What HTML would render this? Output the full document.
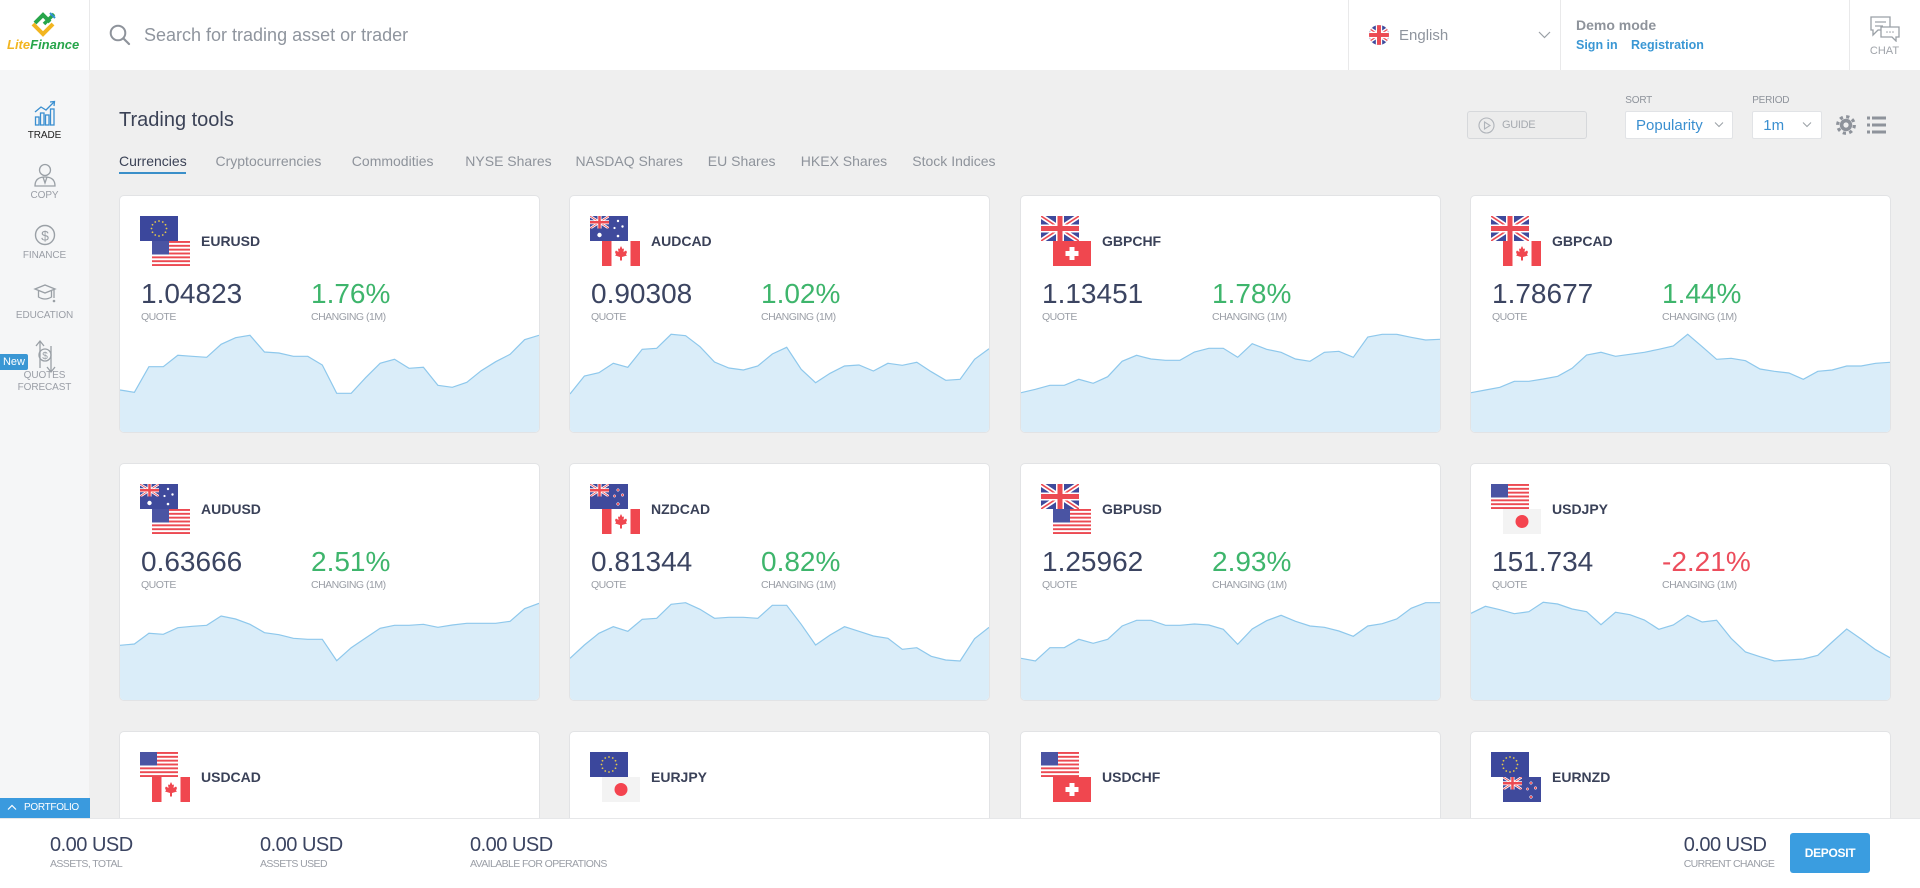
<!DOCTYPE html>
<html><head><meta charset="utf-8">
<style>
*{box-sizing:border-box;margin:0;padding:0}
html,body{width:1920px;height:888px;overflow:hidden}
body{position:relative;background:#efefef;font-family:"Liberation Sans",Arial,sans-serif;color:#3b4256}
.a{position:absolute;white-space:nowrap}
#hdr{position:absolute;left:0;top:0;width:1920px;height:70px;background:#fff}
.vl{position:absolute;top:0;width:1px;height:70px;background:#e9e9ea}
#side{position:absolute;left:0;top:70px;width:89px;height:748px;background:#f5f6f7}
.sl{position:absolute;left:0;width:89px;text-align:center;font-size:10px;line-height:10px;color:#9a9ea6;letter-spacing:-0.1px}
.tab{position:absolute;top:154px;font-size:14px;line-height:14px;color:#8e939b}
.card{position:absolute;width:419px;height:236px;background:#fff;border-radius:4px;box-shadow:0 0 0 1px #e2e3e5;overflow:hidden}
.card.cut{height:86px;border-radius:4px 4px 0 0}
.card .ch{position:absolute;left:0;top:0}
.card .f1{position:absolute;left:20px;top:20px}
.card .f2{position:absolute;left:32px;top:45px}
.pair{position:absolute;left:81px;top:38.2px;font-size:14px;line-height:14px;font-weight:bold;color:#3a4158;white-space:nowrap}
.q{position:absolute;left:21px;top:84.3px;font-size:28px;line-height:28px;color:#3b4461;white-space:nowrap}
.c{position:absolute;left:191px;top:84.3px;font-size:28px;line-height:28px;color:#3eb56c;white-space:nowrap}
.c.neg{color:#ec4d5c}
.ql,.cl{position:absolute;top:116px;font-size:10.5px;line-height:10.5px;color:#9a9ea6;letter-spacing:-0.5px;white-space:nowrap}
.ql{left:21px}.cl{left:191px}
#bot{position:absolute;left:0;top:818px;width:1920px;height:70px;background:#fff;border-top:1px solid #e6e7e9}
.bv{position:absolute;top:835px;font-size:20px;line-height:20px;color:#3b4461;letter-spacing:-0.5px}
.bl{position:absolute;top:859px;font-size:10.5px;line-height:10.5px;color:#9a9ea6;letter-spacing:-0.6px}
.sel{position:absolute;top:110.7px;height:28.6px;background:#fff;border:1px solid #e1e3e6;border-radius:2px}
.lab{position:absolute;top:96.1px;font-size:10px;line-height:10px;color:#8e939b;letter-spacing:-0.2px}
</style></head><body>

<svg width="0" height="0" style="position:absolute">
<defs>
<symbol id="gb" viewBox="0 0 38 25">
<rect width="38" height="25" fill="#3f4a9c"/>
<path d="M0,0L38,25M38,0L0,25" stroke="#fff" stroke-width="5"/>
<path d="M0,0L38,25M38,0L0,25" stroke="#ec4a52" stroke-width="1.6"/>
<rect x="15" width="8" height="25" fill="#fff"/><rect y="8.5" width="38" height="8" fill="#fff"/>
<rect x="16.5" width="5" height="25" fill="#ec4a52"/><rect y="10" width="38" height="5" fill="#ec4a52"/>
</symbol>
<symbol id="us" viewBox="0 0 38 25">
<rect width="38" height="25" fill="#fff"/>
<g fill="#ec4a52"><rect y="0" width="38" height="1.92"/><rect y="3.85" width="38" height="1.92"/><rect y="7.69" width="38" height="1.92"/><rect y="11.54" width="38" height="1.92"/><rect y="15.38" width="38" height="1.92"/><rect y="19.23" width="38" height="1.92"/><rect y="23.08" width="38" height="1.92"/></g>
<rect width="17" height="13.5" fill="#4a54a3"/>
</symbol>
<symbol id="eu" viewBox="0 0 38 25">
<rect width="38" height="25" fill="#3b479c"/>
<g fill="#e6c94a"><circle cx="19" cy="5" r="0.9"/><circle cx="22.75" cy="6" r="0.9"/><circle cx="25.5" cy="8.75" r="0.9"/><circle cx="26.5" cy="12.5" r="0.9"/><circle cx="25.5" cy="16.25" r="0.9"/><circle cx="22.75" cy="19" r="0.9"/><circle cx="19" cy="20" r="0.9"/><circle cx="15.25" cy="19" r="0.9"/><circle cx="12.5" cy="16.25" r="0.9"/><circle cx="11.5" cy="12.5" r="0.9"/><circle cx="12.5" cy="8.75" r="0.9"/><circle cx="15.25" cy="6" r="0.9"/></g>
</symbol>
<symbol id="ca" viewBox="0 0 38 25">
<rect width="38" height="25" fill="#fff"/>
<rect width="9.5" height="25" fill="#f0474f"/><rect x="28.5" width="9.5" height="25" fill="#f0474f"/>
<polygon fill="#f0474f" points="19,5 20.5,8 22,7.5 21.5,11 24,9.5 25,11 24,13.5 25,14.5 20,16 20,19.5 18,19.5 18,16 13,14.5 14,13.5 13,11 14,9.5 16.5,11 16,7.5 17.5,8"/>
</symbol>
<symbol id="ch" viewBox="0 0 38 25">
<rect width="38" height="25" fill="#f0474f"/>
<rect x="16.5" y="6" width="5" height="13" fill="#fff"/><rect x="12.5" y="10" width="13" height="5" fill="#fff"/>
</symbol>
<symbol id="jp" viewBox="0 0 38 25">
<rect width="38" height="25" fill="#f3f3f3"/>
<circle cx="19" cy="12.5" r="6.5" fill="#f4444f"/>
</symbol>
<symbol id="au" viewBox="0 0 38 25">
<rect width="38" height="25" fill="#3f4a9c"/>
<use href="#gb" x="0" y="0" width="19" height="12.5"/>
<g fill="#fff"><circle cx="9.5" cy="19" r="2.2"/><circle cx="28" cy="5" r="1.2"/><circle cx="32.5" cy="10.5" r="1.2"/><circle cx="28" cy="20" r="1.3"/><circle cx="24.5" cy="12" r="1.1"/></g>
</symbol>
<symbol id="nz" viewBox="0 0 38 25">
<rect width="38" height="25" fill="#3f4a9c"/>
<use href="#gb" x="0" y="0" width="19" height="12.5"/>
<g fill="#ec4a52" stroke="#fff" stroke-width="0.5"><circle cx="28" cy="6" r="1.3"/><circle cx="32.5" cy="11" r="1.3"/><circle cx="28" cy="20" r="1.4"/><circle cx="24.5" cy="12" r="1.2"/></g>
</symbol>
</defs>
</svg>

<!-- HEADER -->
<div id="hdr"></div>
<div class="vl" style="left:89px"></div>
<div class="vl" style="left:1348px"></div>
<div class="vl" style="left:1560px"></div>
<div class="vl" style="left:1849px"></div>

<!-- logo -->
<svg class="a" style="left:0;top:0" width="89" height="70">
<polyline points="33,24 43,34 53,24" fill="none" stroke="#f2b520" stroke-width="4"/>
<polyline points="35,23 43,15 50,22" fill="none" stroke="#27a54a" stroke-width="4"/>
<line x1="44" y1="24" x2="54" y2="14" stroke="#27a54a" stroke-width="3.5"/>
<line x1="50" y1="13" x2="55" y2="18" stroke="#2f8fd0" stroke-width="2"/>
</svg>
<div class="a" style="left:7px;top:38px;font-size:13px;line-height:13px;font-weight:bold;font-style:italic"><span style="color:#f2b520">Lite</span><span style="color:#27a54a">Finance</span></div>

<!-- search -->
<svg class="a" style="left:108px;top:24px" width="26" height="24">
<circle cx="10" cy="9" r="7.3" fill="none" stroke="#8e939b" stroke-width="2"/>
<line x1="15.5" y1="14.5" x2="21" y2="20" stroke="#8e939b" stroke-width="2.2" stroke-linecap="round"/>
</svg>
<div class="a" style="left:144px;top:26.2px;font-size:18px;line-height:18px;color:#8f959e">Search for trading asset or trader</div>

<!-- language -->
<svg class="a" style="left:1369px;top:25px" width="20" height="20">
<clipPath id="cc"><circle cx="10" cy="10" r="10"/></clipPath>
<g clip-path="url(#cc)"><use href="#gb" x="-5" y="0" width="30" height="20"/></g>
</svg>
<div class="a" style="left:1399px;top:27.7px;font-size:15px;line-height:15px;color:#8f959e">English</div>
<svg class="a" style="left:1538px;top:30px" width="14" height="10"><polyline points="1,2 6.5,7.5 12,2" fill="none" stroke="#9aa0a6" stroke-width="1.2"/></svg>

<div class="a" style="left:1576px;top:18.2px;font-size:14px;line-height:14px;font-weight:bold;color:#8e939b">Demo mode</div>
<div class="a" style="left:1576px;top:38.5px;font-size:12.5px;line-height:12.5px;font-weight:bold;color:#3a97d4">Sign in</div>
<div class="a" style="left:1631px;top:38.5px;font-size:12.5px;line-height:12.5px;font-weight:bold;color:#3a97d4">Registration</div>

<svg class="a" style="left:1868px;top:14px" width="34" height="28">
<path d="M3,3 H22 V16 H10 L5,21 V16 H3 Z" fill="#fff" stroke="#9aa0a6" stroke-width="1.3"/>
<line x1="7" y1="8" x2="18" y2="8" stroke="#9aa0a6" stroke-width="1.2"/>
<line x1="7" y1="12" x2="15" y2="12" stroke="#9aa0a6" stroke-width="1.2"/>
<path d="M13,13 H31 V23 H28 V27 L24,23 H13 Z" fill="#fff" stroke="#9aa0a6" stroke-width="1.3"/>
<g fill="#9aa0a6"><circle cx="19" cy="18" r="0.8"/><circle cx="22" cy="18" r="0.8"/><circle cx="25" cy="18" r="0.8"/></g>
</svg>
<div class="a" style="left:1849px;width:71px;text-align:center;top:46.3px;font-size:11px;line-height:11px;color:#a0a4aa">CHAT</div>

<!-- SIDEBAR -->
<div id="side"></div>
<svg class="a" style="left:0;top:90px" width="89" height="300">
<g stroke="#3b8fd0" stroke-width="1.3" fill="none">
<rect x="35.5" y="27" width="3.5" height="8"/><rect x="40.5" y="23" width="3.5" height="12"/><rect x="45.5" y="25" width="3.5" height="10"/><rect x="50.5" y="19" width="3.5" height="16"/>
<polyline points="35,22 41,17 46,20 54,12"/><polyline points="50,12 54.5,11.5 54,16"/>
</g>
<g stroke="#9aa0a6" stroke-width="1.3" fill="none">
<circle cx="45" cy="80" r="5.5"/>
<path d="M35,96 Q35,87 45,87 Q55,87 55,96 Z"/>
<polyline points="43,87 45,93 47,87"/>
</g>
<circle cx="45" cy="145" r="9.5" fill="none" stroke="#9aa0a6" stroke-width="1.4"/>
<text x="45" y="150.5" text-anchor="middle" font-family="Liberation Sans" font-size="14" fill="#9aa0a6">$</text>
<g stroke="#9aa0a6" stroke-width="1.3" fill="none">
<polygon points="35,199 45,195 55,199 45,203"/>
<path d="M38.5,201 V207 Q45,211 51.5,207 V201"/>
<line x1="54" y1="199" x2="54" y2="208"/>
</g>
<circle cx="54" cy="211" r="1.3" fill="#9aa0a6"/>
<g stroke="#9aa0a6" stroke-width="1.3" fill="none">
<polyline points="40,278 40,252"/><polyline points="36,256 40,251 44,256"/>
<polyline points="51,256 51,281"/><polyline points="47,277 51,282 55,277"/>
<circle cx="45" cy="265" r="6"/>
</g>
<text x="45" y="269" text-anchor="middle" font-family="Liberation Sans" font-size="10" fill="#9aa0a6">$</text>
</svg>
<div class="sl" style="top:131.1px;color:#222">TRADE</div>
<div class="sl" style="top:191.1px">COPY</div>
<div class="sl" style="top:251.1px">FINANCE</div>
<div class="sl" style="top:311.1px">EDUCATION</div>
<div class="sl" style="top:371.1px">QUOTES</div>
<div class="sl" style="top:383.1px">FORECAST</div>
<div class="a" style="left:0;top:354px;width:28px;height:16px;background:#3a97d4;color:#fff;font-size:11px;line-height:16px;text-align:center;border-radius:0 2px 2px 0">New</div>

<!-- CONTENT HEADER -->
<div class="a" style="left:119px;top:110.2px;font-size:20px;line-height:20px;color:#3b4256">Trading tools</div>
<div class="tab" style="left:119px;color:#3b4256">Currencies</div>
<div class="a" style="left:119px;top:172px;width:67px;height:2px;background:#3a8fc9"></div>
<div class="tab" style="left:215.5px">Cryptocurrencies</div>
<div class="tab" style="left:351.8px">Commodities</div>
<div class="tab" style="left:465.3px">NYSE Shares</div>
<div class="tab" style="left:575.5px">NASDAQ Shares</div>
<div class="tab" style="left:707.8px">EU Shares</div>
<div class="tab" style="left:800.8px">HKEX Shares</div>
<div class="tab" style="left:912.3px">Stock Indices</div>

<div class="a" style="left:1467px;top:110.7px;width:119.5px;height:28.6px;border:1px solid #d6d8db;border-radius:3px;background:#ececec"></div>
<svg class="a" style="left:1478px;top:116.5px" width="17" height="17">
<circle cx="8.5" cy="8.5" r="7.5" fill="none" stroke="#b0b4ba" stroke-width="1.1"/>
<polygon points="6.5,5 12,8.5 6.5,12" fill="none" stroke="#b0b4ba" stroke-width="1.1"/>
</svg>
<div class="a" style="left:1502px;top:119.6px;font-size:11px;line-height:11px;color:#a6aab0;letter-spacing:-0.3px">GUIDE</div>

<div class="lab" style="left:1625.3px">SORT</div>
<div class="sel" style="left:1625.3px;width:108.2px"></div>
<div class="a" style="left:1636px;top:117.7px;font-size:15px;line-height:15px;color:#3a8fd0">Popularity</div>
<svg class="a" style="left:1714px;top:121px" width="10" height="8"><polyline points="1,1.5 5,5.5 9,1.5" fill="none" stroke="#9aa0a6" stroke-width="1"/></svg>

<div class="lab" style="left:1752.2px">PERIOD</div>
<div class="sel" style="left:1752.2px;width:69.4px"></div>
<div class="a" style="left:1763.3px;top:117.7px;font-size:15px;line-height:15px;color:#3a8fd0">1m</div>
<svg class="a" style="left:1802px;top:121px" width="10" height="8"><polyline points="1,1.5 5,5.5 9,1.5" fill="none" stroke="#9aa0a6" stroke-width="1"/></svg>

<svg class="a" style="left:1835px;top:114px" width="22" height="22">
<circle cx="11" cy="11" r="8.3" fill="none" stroke="#8e939b" stroke-width="3.2" stroke-dasharray="3.2 3.3"/>
<circle cx="11" cy="11" r="6.2" fill="#8e939b"/>
<circle cx="11" cy="11" r="2.6" fill="#efefef"/>
</svg>
<svg class="a" style="left:1866px;top:115px" width="21" height="19">
<g fill="#8e939b"><rect x="1" y="1.5" width="3" height="3"/><rect x="6" y="1.5" width="14" height="3"/><rect x="1" y="8.5" width="3" height="3"/><rect x="6" y="8.5" width="14" height="3"/><rect x="1" y="15.5" width="3" height="3"/><rect x="6" y="15.5" width="14" height="3"/></g>
</svg>

<!-- CARDS ROW 1 -->
<div class="card" style="left:120px;top:196px">
<svg class="ch" width="419" height="236"><polygon fill="#daedf9" points="0,236 0,194 14.4,196.3 28.9,170.7 43.3,170.7 57.8,159.3 72.2,160.3 86.7,161.3 101.1,148.3 115.6,141.7 130,139.3 144.5,156 158.9,157 173.4,160.3 187.8,160.3 202.3,169 216.7,197.3 231.2,197.3 245.6,181.7 260.1,167.3 274.5,163.3 289,172.3 303.4,171.3 317.9,189.3 332.3,191.3 346.8,186.3 361.2,174.7 375.7,165.7 390.1,158.3 404.6,143.7 419,139.3 419,236"/><polyline fill="none" stroke="#8ec8ec" stroke-width="1.2" points="0,194 14.4,196.3 28.9,170.7 43.3,170.7 57.8,159.3 72.2,160.3 86.7,161.3 101.1,148.3 115.6,141.7 130,139.3 144.5,156 158.9,157 173.4,160.3 187.8,160.3 202.3,169 216.7,197.3 231.2,197.3 245.6,181.7 260.1,167.3 274.5,163.3 289,172.3 303.4,171.3 317.9,189.3 332.3,191.3 346.8,186.3 361.2,174.7 375.7,165.7 390.1,158.3 404.6,143.7 419,139.3"/></svg>
<svg class="f1" width="38" height="25"><use href="#eu"/></svg><svg class="f2" width="38" height="25"><use href="#us"/></svg>
<div class="pair">EURUSD</div><div class="q">1.04823</div><div class="ql">QUOTE</div><div class="c">1.76%</div><div class="cl">CHANGING (1M)</div>
</div>

<div class="card" style="left:570px;top:196px">
<svg class="ch" width="419" height="236"><polygon fill="#daedf9" points="0,236 0,198 14.4,180 28.9,176.7 43.3,167.3 57.8,171.3 72.2,153.3 86.7,152.3 101.1,138.3 115.6,139.7 130,150.7 144.5,166 158.9,172 173.4,174 187.8,170 202.3,158 216.7,151.3 231.2,173.3 245.6,186.7 260.1,177.3 274.5,170 289,169 303.4,175 317.9,167.3 332.3,169.3 346.8,166.3 361.2,175.7 375.7,184.3 390.1,183.3 404.6,163.3 419,152.7 419,236"/><polyline fill="none" stroke="#8ec8ec" stroke-width="1.2" points="0,198 14.4,180 28.9,176.7 43.3,167.3 57.8,171.3 72.2,153.3 86.7,152.3 101.1,138.3 115.6,139.7 130,150.7 144.5,166 158.9,172 173.4,174 187.8,170 202.3,158 216.7,151.3 231.2,173.3 245.6,186.7 260.1,177.3 274.5,170 289,169 303.4,175 317.9,167.3 332.3,169.3 346.8,166.3 361.2,175.7 375.7,184.3 390.1,183.3 404.6,163.3 419,152.7"/></svg>
<svg class="f1" width="38" height="25"><use href="#au"/></svg><svg class="f2" width="38" height="25"><use href="#ca"/></svg>
<div class="pair">AUDCAD</div><div class="q">0.90308</div><div class="ql">QUOTE</div><div class="c">1.02%</div><div class="cl">CHANGING (1M)</div>
</div>

<div class="card" style="left:1021px;top:196px">
<svg class="ch" width="419" height="236"><polygon fill="#daedf9" points="0,236 0,196.7 14.4,193.3 28.9,189.3 43.3,189.3 57.8,183.3 72.2,187.3 86.7,180.7 101.1,165.3 115.6,159.3 130,163 144.5,164.3 158.9,164.3 173.4,156 187.8,152.3 202.3,152.3 216.7,161.3 231.2,147.7 245.6,153.3 260.1,156.3 274.5,163 289,165.3 303.4,156.3 317.9,155.3 332.3,161.3 346.8,141 361.2,138.3 375.7,138.3 390.1,141.3 404.6,144 419,143.3 419,236"/><polyline fill="none" stroke="#8ec8ec" stroke-width="1.2" points="0,196.7 14.4,193.3 28.9,189.3 43.3,189.3 57.8,183.3 72.2,187.3 86.7,180.7 101.1,165.3 115.6,159.3 130,163 144.5,164.3 158.9,164.3 173.4,156 187.8,152.3 202.3,152.3 216.7,161.3 231.2,147.7 245.6,153.3 260.1,156.3 274.5,163 289,165.3 303.4,156.3 317.9,155.3 332.3,161.3 346.8,141 361.2,138.3 375.7,138.3 390.1,141.3 404.6,144 419,143.3"/></svg>
<svg class="f1" width="38" height="25"><use href="#gb"/></svg><svg class="f2" width="38" height="25"><use href="#ch"/></svg>
<div class="pair">GBPCHF</div><div class="q">1.13451</div><div class="ql">QUOTE</div><div class="c">1.78%</div><div class="cl">CHANGING (1M)</div>
</div>

<div class="card" style="left:1471px;top:196px">
<svg class="ch" width="419" height="236"><polygon fill="#daedf9" points="0,236 0,196.7 14.4,194 28.9,191.3 43.3,185.3 57.8,185.3 72.2,183 86.7,180.3 101.1,172.3 115.6,159 130,156.3 144.5,160.3 158.9,158.3 173.4,156.3 187.8,153.3 202.3,150 216.7,138.3 231.2,150.7 245.6,163.3 260.1,162.3 274.5,164.7 289,173 303.4,175.3 317.9,177 332.3,183.3 346.8,175.3 361.2,174 375.7,170 390.1,170 404.6,167.3 419,166.3 419,236"/><polyline fill="none" stroke="#8ec8ec" stroke-width="1.2" points="0,196.7 14.4,194 28.9,191.3 43.3,185.3 57.8,185.3 72.2,183 86.7,180.3 101.1,172.3 115.6,159 130,156.3 144.5,160.3 158.9,158.3 173.4,156.3 187.8,153.3 202.3,150 216.7,138.3 231.2,150.7 245.6,163.3 260.1,162.3 274.5,164.7 289,173 303.4,175.3 317.9,177 332.3,183.3 346.8,175.3 361.2,174 375.7,170 390.1,170 404.6,167.3 419,166.3"/></svg>
<svg class="f1" width="38" height="25"><use href="#gb"/></svg><svg class="f2" width="38" height="25"><use href="#ca"/></svg>
<div class="pair">GBPCAD</div><div class="q">1.78677</div><div class="ql">QUOTE</div><div class="c">1.44%</div><div class="cl">CHANGING (1M)</div>
</div>

<!-- CARDS ROW 2 -->
<div class="card" style="left:120px;top:464px">
<svg class="ch" width="419" height="236"><polygon fill="#daedf9" points="0,236 0,181.3 14.4,180 28.9,169.3 43.3,170.3 57.8,163.7 72.2,162.3 86.7,161.3 101.1,152 115.6,155 130,160.3 144.5,168.7 158.9,170.7 173.4,174.3 187.8,175.3 202.3,175.3 216.7,196.7 231.2,183.7 245.6,174 260.1,164.3 274.5,161.3 289,161.3 303.4,160.3 317.9,163.3 332.3,161 346.8,159.3 361.2,159.3 375.7,159.3 390.1,157.3 404.6,144.7 419,139.3 419,236"/><polyline fill="none" stroke="#8ec8ec" stroke-width="1.2" points="0,181.3 14.4,180 28.9,169.3 43.3,170.3 57.8,163.7 72.2,162.3 86.7,161.3 101.1,152 115.6,155 130,160.3 144.5,168.7 158.9,170.7 173.4,174.3 187.8,175.3 202.3,175.3 216.7,196.7 231.2,183.7 245.6,174 260.1,164.3 274.5,161.3 289,161.3 303.4,160.3 317.9,163.3 332.3,161 346.8,159.3 361.2,159.3 375.7,159.3 390.1,157.3 404.6,144.7 419,139.3"/></svg>
<svg class="f1" width="38" height="25"><use href="#au"/></svg><svg class="f2" width="38" height="25"><use href="#us"/></svg>
<div class="pair">AUDUSD</div><div class="q">0.63666</div><div class="ql">QUOTE</div><div class="c">2.51%</div><div class="cl">CHANGING (1M)</div>
</div>

<div class="card" style="left:570px;top:464px">
<svg class="ch" width="419" height="236"><polygon fill="#daedf9" points="0,236 0,194.3 14.4,181 28.9,169.3 43.3,162.7 57.8,167.3 72.2,155.3 86.7,154.3 101.1,140.3 115.6,138.7 130,145.3 144.5,154.3 158.9,153.3 173.4,153.3 187.8,154.3 202.3,141.3 216.7,141.3 231.2,160.3 245.6,181 260.1,171 274.5,162.7 289,167.3 303.4,172 317.9,174.3 332.3,185.3 346.8,183.7 361.2,192.3 375.7,196 390.1,197 404.6,174.7 419,163.3 419,236"/><polyline fill="none" stroke="#8ec8ec" stroke-width="1.2" points="0,194.3 14.4,181 28.9,169.3 43.3,162.7 57.8,167.3 72.2,155.3 86.7,154.3 101.1,140.3 115.6,138.7 130,145.3 144.5,154.3 158.9,153.3 173.4,153.3 187.8,154.3 202.3,141.3 216.7,141.3 231.2,160.3 245.6,181 260.1,171 274.5,162.7 289,167.3 303.4,172 317.9,174.3 332.3,185.3 346.8,183.7 361.2,192.3 375.7,196 390.1,197 404.6,174.7 419,163.3"/></svg>
<svg class="f1" width="38" height="25"><use href="#nz"/></svg><svg class="f2" width="38" height="25"><use href="#ca"/></svg>
<div class="pair">NZDCAD</div><div class="q">0.81344</div><div class="ql">QUOTE</div><div class="c">0.82%</div><div class="cl">CHANGING (1M)</div>
</div>

<div class="card" style="left:1021px;top:464px">
<svg class="ch" width="419" height="236"><polygon fill="#daedf9" points="0,236 0,194.3 14.4,197 28.9,183.7 43.3,183.7 57.8,175.3 72.2,179.3 86.7,175.3 101.1,162 115.6,156.3 130,156.3 144.5,161.3 158.9,161.3 173.4,160 187.8,161 202.3,165.3 216.7,180.3 231.2,165 245.6,156.7 260.1,151.3 274.5,157.3 289,162 303.4,163.3 317.9,167 332.3,172.3 346.8,162 361.2,159.7 375.7,155 390.1,144.3 404.6,138.7 419,138.7 419,236"/><polyline fill="none" stroke="#8ec8ec" stroke-width="1.2" points="0,194.3 14.4,197 28.9,183.7 43.3,183.7 57.8,175.3 72.2,179.3 86.7,175.3 101.1,162 115.6,156.3 130,156.3 144.5,161.3 158.9,161.3 173.4,160 187.8,161 202.3,165.3 216.7,180.3 231.2,165 245.6,156.7 260.1,151.3 274.5,157.3 289,162 303.4,163.3 317.9,167 332.3,172.3 346.8,162 361.2,159.7 375.7,155 390.1,144.3 404.6,138.7 419,138.7"/></svg>
<svg class="f1" width="38" height="25"><use href="#gb"/></svg><svg class="f2" width="38" height="25"><use href="#us"/></svg>
<div class="pair">GBPUSD</div><div class="q">1.25962</div><div class="ql">QUOTE</div><div class="c">2.93%</div><div class="cl">CHANGING (1M)</div>
</div>

<div class="card" style="left:1471px;top:464px">
<svg class="ch" width="419" height="236"><polygon fill="#daedf9" points="0,236 0,149.3 14.4,142.3 28.9,145.7 43.3,149.7 57.8,147.7 72.2,138.3 86.7,140 101.1,145 115.6,147.7 130,160.7 144.5,148.3 158.9,150.7 173.4,156 187.8,165.3 202.3,161 216.7,151.3 231.2,158 245.6,156.3 260.1,174.3 274.5,188 289,192.7 303.4,197 317.9,196 332.3,195 346.8,191.3 361.2,178 375.7,165 390.1,175 404.6,185.7 419,193.7 419,236"/><polyline fill="none" stroke="#8ec8ec" stroke-width="1.2" points="0,149.3 14.4,142.3 28.9,145.7 43.3,149.7 57.8,147.7 72.2,138.3 86.7,140 101.1,145 115.6,147.7 130,160.7 144.5,148.3 158.9,150.7 173.4,156 187.8,165.3 202.3,161 216.7,151.3 231.2,158 245.6,156.3 260.1,174.3 274.5,188 289,192.7 303.4,197 317.9,196 332.3,195 346.8,191.3 361.2,178 375.7,165 390.1,175 404.6,185.7 419,193.7"/></svg>
<svg class="f1" width="38" height="25"><use href="#us"/></svg><svg class="f2" width="38" height="25"><use href="#jp"/></svg>
<div class="pair">USDJPY</div><div class="q">151.734</div><div class="ql">QUOTE</div><div class="c neg">-2.21%</div><div class="cl">CHANGING (1M)</div>
</div>

<!-- CARDS ROW 3 (clipped) -->
<div class="card cut" style="left:120px;top:732px">
<svg class="f1" width="38" height="25"><use href="#us"/></svg><svg class="f2" width="38" height="25"><use href="#ca"/></svg>
<div class="pair">USDCAD</div>
</div>
<div class="card cut" style="left:570px;top:732px">
<svg class="f1" width="38" height="25"><use href="#eu"/></svg><svg class="f2" width="38" height="25"><use href="#jp"/></svg>
<div class="pair">EURJPY</div>
</div>
<div class="card cut" style="left:1021px;top:732px">
<svg class="f1" width="38" height="25"><use href="#us"/></svg><svg class="f2" width="38" height="25"><use href="#ch"/></svg>
<div class="pair">USDCHF</div>
</div>
<div class="card cut" style="left:1471px;top:732px">
<svg class="f1" width="38" height="25"><use href="#eu"/></svg><svg class="f2" width="38" height="25"><use href="#nz"/></svg>
<div class="pair">EURNZD</div>
</div>

<!-- PORTFOLIO TAB -->
<div class="a" style="left:0;top:798px;width:90px;height:20px;background:#3a9ade"></div>
<svg class="a" style="left:7px;top:803px" width="10" height="8"><polyline points="1,6.5 5,2.5 9,6.5" fill="none" stroke="#fff" stroke-width="1.2"/></svg>
<div class="a" style="left:24px;top:803px;font-size:10px;line-height:10px;color:#fff;letter-spacing:-0.3px">PORTFOLIO</div>

<!-- BOTTOM BAR -->
<div id="bot"></div>
<div class="bv" style="left:50px">0.00 USD</div><div class="bl" style="left:50px">ASSETS, TOTAL</div>
<div class="bv" style="left:260px">0.00 USD</div><div class="bl" style="left:260px">ASSETS USED</div>
<div class="bv" style="left:470px">0.00 USD</div><div class="bl" style="left:470px">AVAILABLE FOR OPERATIONS</div>
<div class="bv" style="left:1683.7px">0.00 USD</div><div class="bl" style="left:1683.7px">CURRENT CHANGE</div>
<div class="a" style="left:1790px;top:833px;width:80px;height:40px;background:#3a9de0;border-radius:3px;color:#fff;font-size:12px;line-height:40px;text-align:center;font-weight:bold;letter-spacing:-0.3px">DEPOSIT</div>

</body></html>
